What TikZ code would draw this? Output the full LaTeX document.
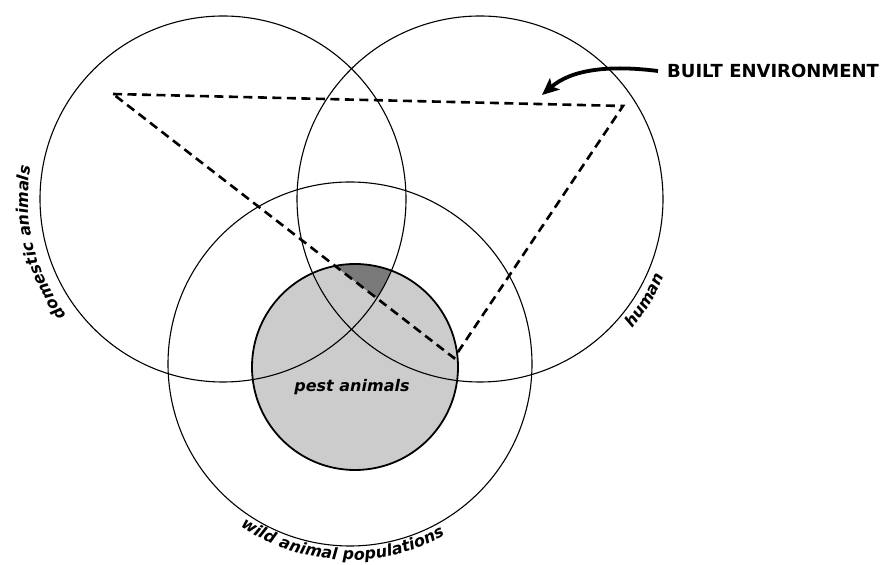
\documentclass[tikz,border=0pt]{standalone}
\usepackage{fontspec}
\setmainfont{DejaVu Sans}
\usetikzlibrary{arrows.meta,decorations.text}
\newcommand{\labelfont}{\fontsize{16}{19}\selectfont\bfseries\itshape}

\begin{document}
\begin{tikzpicture}[x=1pt, y=1pt,
        ring/.style={draw, line width=1.1pt},
        pestring/.style={draw, line width=1.8pt},
        pestzone/.style={fill=black!20},
        corezone/.style={fill=black!52},
        builtedge/.style={draw, line width=2.6pt, dash pattern=on 9pt off 5.5pt},
        curvedlabel/.style={decorate, decoration={text along path, text align=center, text={|\labelfont|#1}}},
        pointer/.style={draw, line width=3.8pt, -{Stealth[length=17pt, width=15pt, inset=4pt]}}]
        \useasboundingbox (0,0) rectangle (887,565);
        \coordinate (dc) at (223,366);
        \coordinate (hc) at (480,366);
        \coordinate (wc) at (350,201);
        \coordinate (pc) at (355,198);
        \coordinate (t1) at (113,471);
        \coordinate (t2) at (623,459);
        \coordinate (t3) at (454,207);
        \coordinate (tip) at (542,470);
        \fill[pestzone] (pc) circle[radius=103];
        \begin{scope}
            \clip (pc) circle[radius=103];
            \clip (dc) circle[radius=183];
            \clip (hc) circle[radius=183];
            \fill[corezone] (t1) -- (t2) -- (t3) -- cycle;
        \end{scope}
        \draw[ring] (dc) circle[radius=183];
        \draw[ring] (hc) circle[radius=183];
        \draw[ring] (wc) circle[radius=182];
        \draw[pestring] (pc) circle[radius=103];
        \draw[builtedge] (t1) -- (t2) -- (t3) -- cycle;
        \node[font=\labelfont, anchor=base, inner sep=0pt] (pest) at (352,173) {pest animals};
        \node[font=\fontsize{18}{21}\selectfont\bfseries, anchor=west, inner xsep=9pt, inner ysep=0pt] (built) at (658,494) {BUILT ENVIRONMENT};
        \draw[pointer] (built.west) .. controls (610,500) and (572,496) .. (tip);
        \path[curvedlabel={domestic animals}] (dc) ++(217:195) arc[start angle=217, end angle=170, radius=195];
        \path[curvedlabel={human}] (hc) ++(-42:200) arc[start angle=-42, end angle=-21, radius=200];
        \path[curvedlabel={wild animal populations}] (wc) ++(233:196) arc[start angle=233, end angle=302, radius=196];
\end{tikzpicture}
\end{document}
